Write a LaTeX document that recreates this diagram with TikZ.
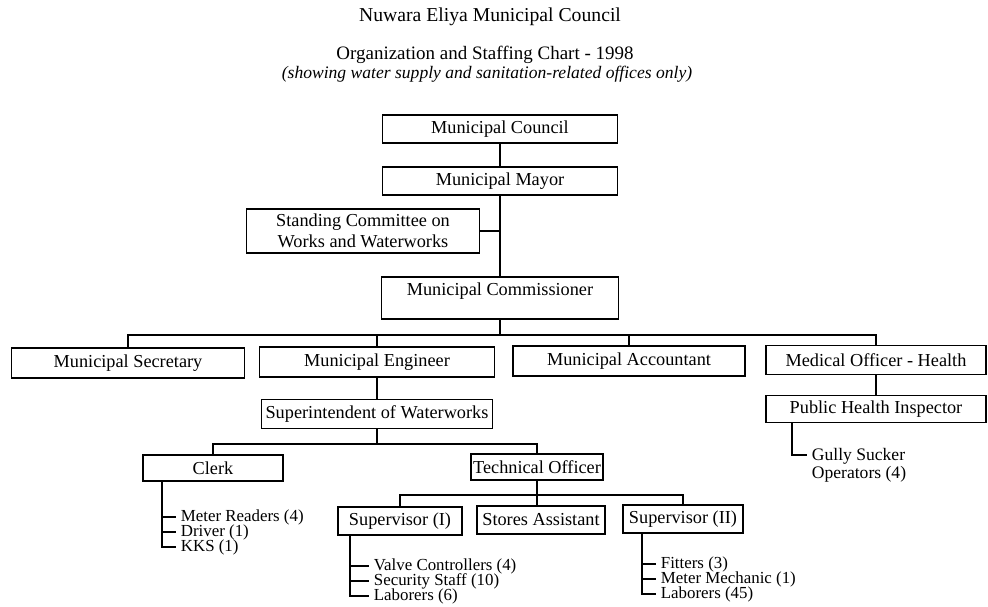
\documentclass[tikz,border=0pt]{standalone}
\usepackage{fontspec}
\setmainfont{Liberation Serif}

\begin{document}
\begin{tikzpicture}[x=0.25mm, y=-0.25mm,
        box/.style={draw, line width=1.3pt, inner sep=0pt, font=\fontsize{13}{15}\selectfont},
        leaf/.style={anchor=west, inner sep=0pt, font=\fontsize{12}{12}\selectfont},
        every path/.style={line width=1.3pt}]
        \useasboundingbox (0,0) rectangle (988,606);

        % Titles
        \node[font=\fontsize{14}{16}\selectfont] (title) at (490,17) {Nuwara Eliya Municipal Council};
        \node[font=\fontsize{13.5}{15}\selectfont] (chart) at (485,55) {Organization and Staffing Chart - 1998};
        \node[font=\fontsize{12.5}{14}\itshape] (subtitle) at (487,74) {(showing water supply and sanitation-related offices only)};

        % Draw nodes
        \node[box, minimum width=58.75mm, minimum height=7mm] (council) at (500,129) {Municipal Council};
        \node[box, minimum width=58.75mm, minimum height=7mm] (mayor) at (500,181) {Municipal Mayor};
        \node[box, minimum width=58.25mm, minimum height=11mm, align=center] (committee) at (363,231) {Standing Committee on\\Works and Waterworks};
        \node[box, minimum width=59.25mm, minimum height=10.5mm, text height=9pt, text depth=12pt] (commish) at (500,298) {Municipal Commissioner};

        \node[box, minimum width=58.25mm, minimum height=7.5mm] (secretary) at (128,363) {Municipal Secretary};
        \node[box, minimum width=58.75mm, minimum height=7.5mm] (engineer) at (377,362) {Municipal Engineer};
        \node[box, minimum width=58mm, minimum height=7.5mm] (accountant) at (629,361) {Municipal Accountant};
        \node[box, minimum width=55mm, minimum height=7.25mm] (medical) at (876,360) {Medical Officer - Health};

        \node[box, minimum width=57.75mm, minimum height=7.25mm] (superint) at (377,414) {Superintendent of Waterworks};
        \node[box, minimum width=55mm, minimum height=6.75mm] (phi) at (876,409) {Public Health Inspector};

        \node[box, minimum width=35mm, minimum height=6.5mm] (clerk) at (213,468) {Clerk};
        \node[box, minimum width=33mm, minimum height=6.5mm] (techoff) at (537,467) {Technical Officer};

        \node[box, minimum width=31mm, minimum height=7mm] (supone) at (400,521) {Supervisor (I)};
        \node[box, minimum width=32mm, minimum height=7mm] (stores) at (541,520) {Stores Assistant};
        \node[box, minimum width=30mm, minimum height=7mm] (suptwo) at (683,519) {Supervisor (II)};

        % Staff lists
        \node[leaf] (mreaders) at (180,517) {Meter Readers (4)};
        \node[leaf] (driver) at (180,532) {Driver (1)};
        \node[leaf] (kks) at (180,547) {KKS (1)};

        \node[leaf] (valve) at (373,566) {Valve Controllers (4)};
        \node[leaf] (security) at (373,581) {Security Staff (10)};
        \node[leaf] (laborone) at (373,596) {Laborers (6)};

        \node[leaf] (fitters) at (660,564) {Fitters (3)};
        \node[leaf] (mechanic) at (660,579) {Meter Mechanic (1)};
        \node[leaf] (labortwo) at (660,594) {Laborers (45)};

        \node[leaf, anchor=north west, align=left, font=\fontsize{12.5}{13}\selectfont] (gully) at (811,447) {Gully Sucker\\Operators (4)};

        % Draw connections
        \coordinate (bus1) at (500,335);
        \coordinate (bus2) at (377,444);
        \coordinate (bus3) at (537,495);

        \draw (council.south) -- (mayor.north);
        \draw (mayor.south) -- (commish.north);
        \draw (committee.east) -- (committee.east -| mayor.south);
        \draw (commish.south) -- (bus1);
        \draw (secretary.north) |- (bus1) -| (medical.north);
        \draw (engineer.north) -- (engineer.north |- bus1);
        \draw (accountant.north) -- (accountant.north |- bus1);

        \draw (engineer.south) -- (superint.north);
        \draw (medical.south) -- (phi.north);
        \draw (superint.south) -- (bus2);
        \draw (clerk.north) |- (bus2) -| (techoff.north);

        \draw (techoff.south) -- (techoff.south |- stores.north);
        \draw (supone.north) |- (bus3) -| (suptwo.north);

        % Staff ties
        \coordinate (ck) at (162,547);
        \draw (ck |- clerk.south) -- (ck) -- ([xshift=-1mm]kks.west);
        \draw (ck |- mreaders.west) -- ([xshift=-1mm]mreaders.west);
        \draw (ck |- driver.west) -- ([xshift=-1mm]driver.west);

        \coordinate (sa) at (350,596);
        \draw (sa |- supone.south) -- (sa) -- ([xshift=-1mm]laborone.west);
        \draw (sa |- valve.west) -- ([xshift=-1mm]valve.west);
        \draw (sa |- security.west) -- ([xshift=-1mm]security.west);

        \coordinate (sb) at (642,594);
        \draw (sb |- suptwo.south) -- (sb) -- ([xshift=-1mm]labortwo.west);
        \draw (sb |- fitters.west) -- ([xshift=-1mm]fitters.west);
        \draw (sb |- mechanic.west) -- ([xshift=-1mm]mechanic.west);

        \coordinate (gk) at (792,455);
        \draw (gk |- phi.south) -- (gk) -- ([xshift=-1mm]gk -| gully.west);
    \end{tikzpicture}
\end{document}
